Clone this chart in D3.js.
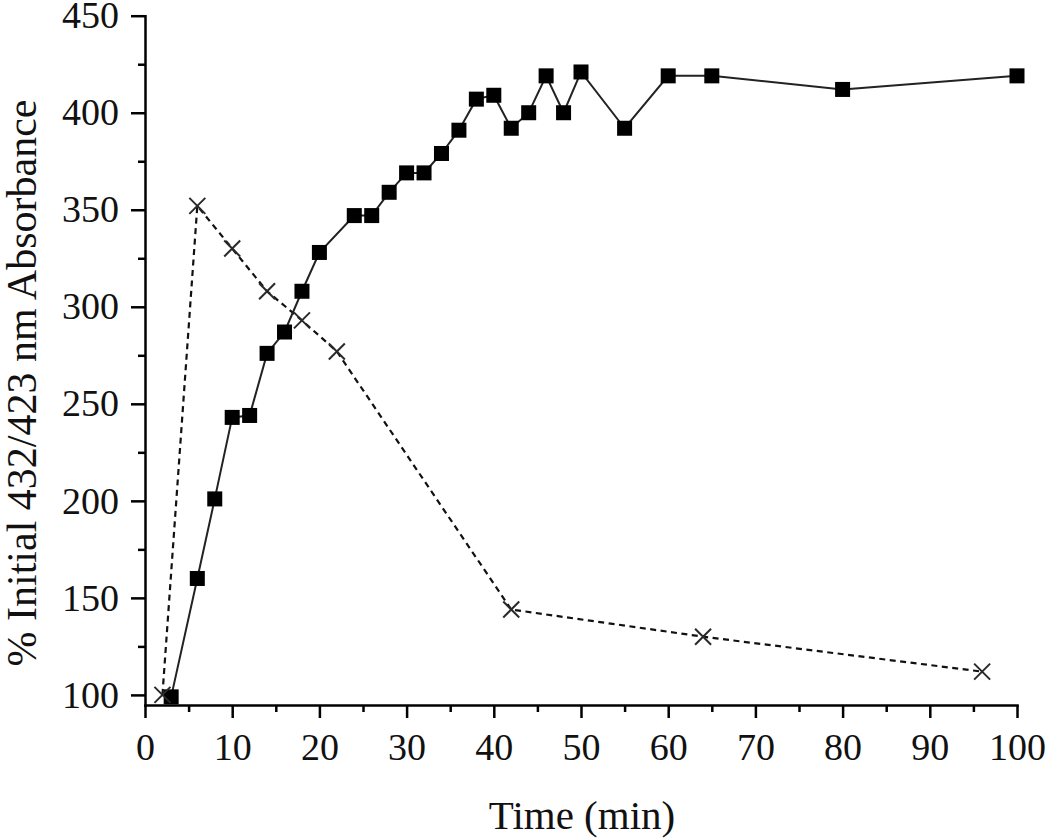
<!DOCTYPE html>
<html>
<head>
<meta charset="utf-8">
<script src="https://cdn.jsdelivr.net/npm/d3@7"></script>
<style>
  html, body { margin: 0; padding: 0; background: #fff; }
  svg { display: block; }
  text { font-family: "Liberation Serif", "Times New Roman", serif; fill: #111; }
</style>
</head>
<body>
<svg id="chart" width="1050" height="838"></svg>
<script>
// ---- data ----
const squareTime  = [3, 6, 8, 10, 12, 14, 16, 18, 20, 24, 26, 28, 30, 32, 34, 36, 38, 40, 42, 44, 46, 48, 50, 55, 60, 65, 80, 100];
const squareValue = [99, 160, 201, 243, 244, 276, 287, 308, 328, 347, 347, 359, 369, 369, 379, 391, 407, 409, 392, 400, 419, 400, 421, 392, 419, 419, 412, 419];
const crossTime   = [2, 6, 10, 14, 18, 22, 42, 64, 96];
const crossValue  = [100, 352, 330, 308, 293, 277, 144, 130, 112];
const xTicks      = [0, 10, 20, 30, 40, 50, 60, 70, 80, 90, 100];
const xMinorTicks = [5, 15, 25, 35, 45, 55, 65, 75, 85, 95];
const yTicks      = [100, 150, 200, 250, 300, 350, 400, 450];
const yMinorTicks = [125, 175, 225, 275, 325, 375, 425];
const xTitle = "Time (min)";
const yTitle = "% Initial 432/423 nm Absorbance";

const squares = squareTime.map((t, i) => ({ t, v: squareValue[i] }));
const crosses = crossTime.map((t, i) => ({ t, v: crossValue[i] }));

// ---- layout ----
const svg = d3.select("#chart");
const x = d3.scaleLinear().domain([0, 100]).range([145, 1017]);
const y = d3.scaleLinear().domain([94.8, 450]).range([705, 15.7]);
const axisY0 = 705, axisX0 = 145;
const serif = "'Liberation Serif', 'Times New Roman', serif";

// ---- lines ----
const line = d3.line().x(d => x(d.t)).y(d => y(d.v));

svg.append("path")
  .datum(crosses)
  .attr("d", line)
  .attr("fill", "none")
  .attr("stroke", "#111")
  .attr("stroke-width", 2.2)
  .attr("stroke-dasharray", "6,4.5");

svg.append("path")
  .datum(squares)
  .attr("d", line)
  .attr("fill", "none")
  .attr("stroke", "#222")
  .attr("stroke-width", 2);

// ---- markers ----
const sq = 15;
svg.append("g").selectAll("rect")
  .data(squares).join("rect")
  .attr("x", d => x(d.t) - sq / 2)
  .attr("y", d => y(d.v) - sq / 2)
  .attr("width", sq).attr("height", sq)
  .attr("fill", "#000");

const cs = 8;
svg.append("g").selectAll("path")
  .data(crosses).join("path")
  .attr("d", d => {
    const cx = x(d.t), cy = y(d.v);
    return `M${cx - cs},${cy - cs}L${cx + cs},${cy + cs}M${cx - cs},${cy + cs}L${cx + cs},${cy - cs}`;
  })
  .attr("stroke", "#2a2a2a")
  .attr("stroke-width", 2)
  .attr("fill", "none");

// ---- axes ----
function styleAxis(g) {
  g.select(".domain").attr("stroke", "#000").attr("stroke-width", 2.5).attr("stroke-linecap", "square");
  g.selectAll(".tick line").attr("stroke", "#000").attr("stroke-width", 2.5);
  g.selectAll(".tick text").style("font-family", serif)
    .attr("font-size", 38).attr("fill", "#111");
}

// x minor
svg.append("g")
  .attr("transform", `translate(0,${axisY0})`)
  .call(d3.axisBottom(x).tickValues(xMinorTicks).tickSize(7).tickSizeOuter(0).tickFormat(""))
  .call(g => { styleAxis(g); g.select(".domain").remove(); });
// x major
svg.append("g")
  .attr("transform", `translate(0,${axisY0})`)
  .call(d3.axisBottom(x).tickValues(xTicks).tickSize(13).tickPadding(15).tickSizeOuter(0).tickFormat(d3.format("d")))
  .call(styleAxis);

// y minor
svg.append("g")
  .attr("transform", `translate(${axisX0},0)`)
  .call(d3.axisLeft(y).tickValues(yMinorTicks).tickSize(7).tickSizeOuter(0).tickFormat(""))
  .call(g => { styleAxis(g); g.select(".domain").remove(); });
// y major
svg.append("g")
  .attr("transform", `translate(${axisX0},0)`)
  .call(d3.axisLeft(y).tickValues(yTicks).tickSize(14).tickPadding(12).tickSizeOuter(0).tickFormat(d3.format("d")))
  .call(styleAxis);

// ---- titles ----
svg.append("text")
  .attr("x", (x.range()[0] + x.range()[1]) / 2 + 1)
  .attr("y", 829)
  .attr("text-anchor", "middle")
  .style("font-family", serif)
  .attr("font-size", 41)
  .text(xTitle);

svg.append("text")
  .attr("transform", "translate(36,383) rotate(-90)")
  .attr("text-anchor", "middle")
  .style("font-family", serif)
  .attr("font-size", 42)
  .text(yTitle);
</script>
</body>
</html>
